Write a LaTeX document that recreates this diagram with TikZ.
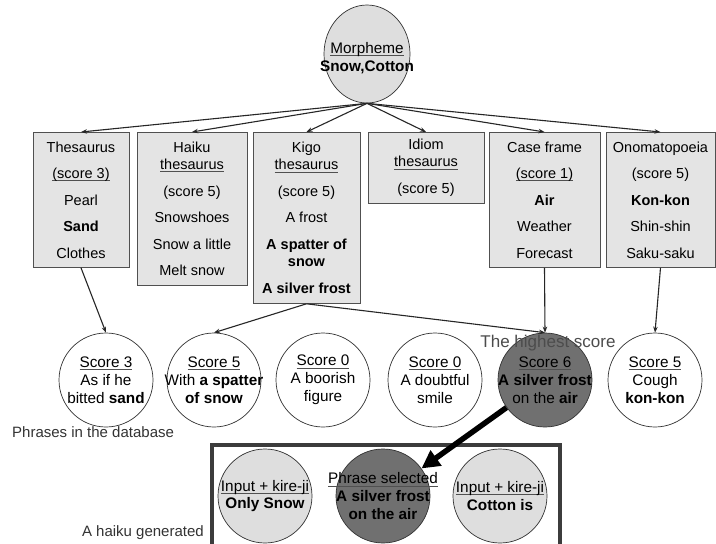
\documentclass[tikz,border=0pt]{standalone}
\usepackage{fontspec}
\setmainfont{Liberation Sans}
\usetikzlibrary{arrows.meta,shapes.geometric}
\definecolor{boxfill}{RGB}{228,228,228}
\definecolor{lightc}{RGB}{222,222,222}
\definecolor{darkc}{RGB}{112,112,112}
\definecolor{edge}{RGB}{80,80,80}
\definecolor{framec}{RGB}{60,60,60}
\newcommand{\myul}[1]{\leavevmode\setbox0\hbox{#1}\rlap{\color{edge}\rule[-2.5pt]{\wd0}{0.6pt}}\box0}
\begin{document}
\begin{tikzpicture}[x=1pt,y=-1pt,
 boxst/.style={draw=edge, line width=0.8pt, fill=boxfill, anchor=north, align=center, inner sep=0pt, font=\fontsize{14.5}{26.5}\selectfont},
 circ/.style={circle, draw=black!80, line width=0.7pt, minimum size=94pt, inner sep=0pt},
 ctext/.style={align=center, inner sep=0pt, font=\fontsize{15.3}{17.8}\selectfont},
 arr/.style={-{Stealth[length=6pt,width=4.5pt]}, line width=1.1pt, draw=black!85},
 lbl/.style={inner sep=0pt, font=\fontsize{15}{18}\selectfont, text=black!80}
]
\useasboundingbox (0,0) rectangle (716,544);
\fill[white] (0,0) rectangle (716,544);

% top morpheme
\node[ellipse, draw=black!80, line width=0.7pt, fill=lightc, minimum width=86pt, minimum height=98pt, inner sep=0pt] (morph) at (367,54) {};
\node[ctext] (morpht) at (367,58) {\myul{Morpheme}\\\textbf{Snow,Cotton}};

% boxes
\node[boxst, minimum width=96pt, minimum height=135pt] (thes) at (81,132) {Thesaurus\\\myul{(score 3)}\\Pearl\\\textbf{Sand}\\Clothes};
\node[boxst, minimum width=110pt, minimum height=153pt] (haiku) at (192,132) {Haiku\\[-9.5pt]\myul{thesaurus}\\(score 5)\\Snowshoes\\Snow a little\\Melt snow};
\node[boxst, minimum width=107pt, minimum height=171pt] (kigo) at (306.5,132) {Kigo\\[-9.5pt]\myul{thesaurus}\\(score 5)\\A frost\\\textbf{A spatter of}\\[-9pt]\textbf{snow}\\\textbf{A silver frost}};
\node[boxst, minimum width=116pt, minimum height=71pt] (idiom) at (426,132) {Idiom\\[-9.5pt]\myul{thesaurus}\\(score 5)};
\node[boxst, minimum width=111pt, minimum height=135pt] (casef) at (544.5,132) {Case frame\\\myul{(score 1)}\\\textbf{Air}\\Weather\\Forecast};
\node[boxst, minimum width=109pt, minimum height=135pt] (onom) at (660.5,132) {Onomatopoeia\\(score 5)\\\textbf{Kon-kon}\\Shin-shin\\Saku-saku};

\foreach \b in {thes,haiku,kigo,idiom,casef,onom}
  \draw[arr] (morph.south) -- (\b.north);

% phrase circles
\node[circ, fill=white] (c1) at (106,380) {};
\node[circ, fill=white] (c2) at (214,380) {};
\node[circ, fill=white] (c3) at (323,380) {};
\node[circ, fill=white] (c4) at (435,380) {};
\node[circ, fill=darkc] (c5) at (545,380) {};
\node[circ, fill=white] (c6) at (655,380) {};
\node[ctext] (c1t) at (c1) {\myul{Score 3}\\As if he\\bitted \textbf{sand}};
\node[ctext] (c2t) at (c2) {\myul{Score 5}\\With \textbf{a spatter}\\\textbf{of snow}};
\node[ctext] (c3t) at (c3) {\myul{Score 0}\\A boorish\\figure};
\node[ctext] (c4t) at (c4) {\myul{Score 0}\\A doubtful\\smile};
\node[ctext] (c5t) at (c5) {\myul{Score 6}\\\textbf{A silver frost}\\on the \textbf{air}};
\node[ctext] (c6t) at (c6) {\myul{Score 5}\\Cough\\\textbf{kon-kon}};
\node[inner sep=0pt, font=\fontsize{17}{20}\selectfont, text=black!70] (high) at (548,343) {The highest score};

\draw[arr] (thes.south) -- (c1.north);
\draw[arr] (kigo.south) -- (c2.north);
\draw[arr] (kigo.south) -- (c5.north);
\draw[arr] (casef.south) -- (c5.north);
\draw[arr] (onom.south) -- (c6.north);

\node[lbl, anchor=west] (phr) at (12,432) {Phrases in the database};

% generated haiku
\node[draw=framec, line width=3.5pt, anchor=north west, minimum width=348pt, minimum height=125pt, inner sep=0pt] (frame) at (210,443) {};
\node[circ, fill=lightc] (b1) at (265,496) {};
\node[circ, fill=darkc] (b2) at (383,496) {};
\node[circ, fill=lightc] (b3) at (500,496) {};
\node[ctext] (b1t) at (b1) {\myul{Input + kire-ji}\\\textbf{Only Snow}};
\node[ctext] (b2t) at (b2) {\myul{Phrase selected}\\\textbf{A silver frost}\\\textbf{on the air}};
\node[ctext] (b3t) at (b3) {\myul{Input + kire-ji}\\\textbf{Cotton is}};
\node[lbl, anchor=east] (gen) at (204,533) {A haiku generated};

\draw[line width=5.5pt, -{Triangle[length=18pt,width=18pt]}] (c5) -- (b2);
\end{tikzpicture}
\end{document}
